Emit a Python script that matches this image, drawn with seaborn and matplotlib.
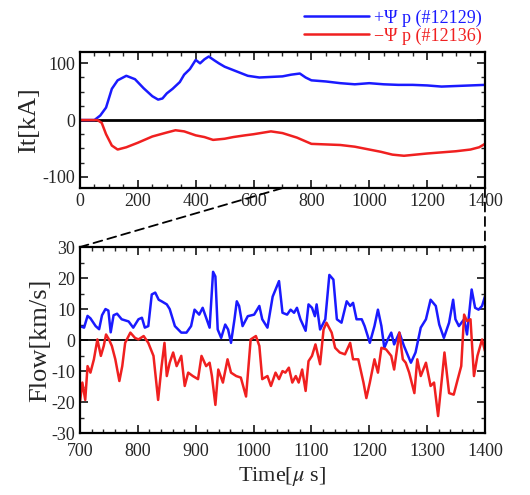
import numpy as np
import pandas as pd
import matplotlib
matplotlib.use("Agg")
import matplotlib.pyplot as plt
from matplotlib.patches import ConnectionPatch
from matplotlib.ticker import MultipleLocator
import seaborn as sns

# --- toroidal current It [kA], time in microseconds ---
it_pos_t = [0, 50, 70, 90, 110, 130, 160, 190, 220, 250, 270, 285, 300, 320, 345, 360, 380, 400,
            415, 430, 445, 465, 480, 500, 530, 560, 580, 620, 660, 700, 730, 760, 780, 800, 850,
            900, 950, 1000, 1050, 1100, 1150, 1200, 1250, 1300, 1350, 1400]
it_pos_v = [0, 0, 8, 22, 55, 70, 78, 72, 56, 42, 36, 38, 47, 55, 67, 80, 90, 106,
            100, 107, 112, 105, 100, 94, 88, 82, 78, 75, 76, 77, 80, 82, 75, 70, 68,
            65, 63, 65, 63, 62, 62, 61, 59, 60, 61, 62]
it_neg_t = [0, 60, 75, 90, 110, 130, 160, 200, 250, 300, 330, 360, 400, 430, 460, 500, 530,
            570, 600, 660, 700, 750, 800, 850, 900, 950, 1000, 1040, 1080, 1120, 1160, 1200,
            1250, 1300, 1350, 1380, 1400]
it_neg_v = [0, 0, -5, -25, -45, -52, -48, -40, -29, -22, -18, -20, -27, -30, -35, -33, -30,
            -27, -25, -20, -23, -31, -42, -43, -44, -47, -52, -56, -61, -63, -61, -59,
            -57, -55, -52, -48, -42]

# --- flow velocity [km/s], time in microseconds ---
fl_pos_t = [700, 707, 713, 718, 727, 733, 738, 744, 749, 753, 758, 764, 772, 784, 792, 801, 807,
            812, 818, 824, 830, 836, 841, 850, 855, 864, 875, 884, 892, 898, 906, 912, 918, 924,
            930, 934, 938, 944, 951, 956, 961, 967, 971, 975, 981, 990, 1001, 1010, 1015, 1024,
            1033, 1044, 1050, 1058, 1064, 1070, 1075, 1081, 1090, 1095, 1101, 1106, 1109, 1115,
            1124, 1131, 1138, 1144, 1152, 1161, 1167, 1172, 1178, 1187, 1192, 1201, 1209, 1215,
            1221, 1226, 1232, 1238, 1243, 1252, 1260, 1272, 1280, 1289, 1298, 1306, 1315, 1321,
            1329, 1338, 1345, 1349, 1355, 1364, 1369, 1377, 1383, 1389, 1395, 1400]
fl_pos_v = [4.5, 4, 7.8, 7, 4.5, 3.5, 8, 10, 9.5, 2.5, 8, 8.5, 6.7, 6, 4, 6.7, 7.2,
            4, 4.5, 14.7, 15.3, 13, 12.5, 11.5, 10, 4.5, 2.4, 2.4, 4.5, 9.8, 8.2, 10.4, 7.2, 4,
            22, 20.5, 3.4, 0.7, 5, 3.4, -0.9, 6.7, 12.5, 11, 4.5, 7.7, 8.2, 11, 6.7, 4,
            14, 19, 8.8, 8.2, 9.8, 8.8, 10.4, 6.7, 3, 11.5, 10.4, 7.7, 11.5, 3.4,
            6.7, 21, 19.5, 6.7, 5.6, 12.5, 11, 12, 6.7, 6.7, 4.5, -0.9, 4.5, 9.8,
            4.5, -2.5, 0.2, 2.4, -1.4, 2.4, -1.9, -7.3, -4, 4, 6.7, 13, 11, 5,
            0.7, 5.6, 13, 6.7, 4.5, 6.7, 1.8, 16.3, 10.4, 9.8, 11, 14]
fl_neg_t = [700, 704, 709, 713, 718, 724, 730, 736, 741, 745, 750, 755, 761, 768, 773, 778, 787,
            795, 801, 810, 818, 827, 835, 841, 846, 850, 855, 861, 867, 875, 881, 887, 895, 904,
            910, 918, 924, 928, 934, 939, 947, 955, 961, 970, 978, 987, 995, 1004, 1010, 1015,
            1024, 1030, 1038, 1044, 1050, 1055, 1061, 1067, 1073, 1078, 1084, 1090, 1095, 1101,
            1107, 1115, 1121, 1126, 1135, 1141, 1149, 1158, 1167, 1172, 1181, 1190, 1195, 1201,
            1209, 1215, 1221, 1229, 1238, 1243, 1252, 1258, 1263, 1269, 1278, 1283, 1289, 1298,
            1306, 1312, 1319, 1326, 1330, 1338, 1346, 1353, 1359, 1364, 1369, 1375, 1381, 1387,
            1395, 1400]
fl_neg_v = [-19.8, -13.7, -19.3, -8.4, -10.5, -6.2, 0.2, -5.1, -1.9, 1.8, 0.2, -1.9, -6.2, -13.2,
            -8.4, -0.9, 2.4, 0.7, 0.2, 1.3, -0.9, -5.1, -19.3, -8.4, -0.9, -11.6, -7.3, -4, -8.4,
            -5.1, -14.8, -10.5, -11.6, -12.6, -5.1, -8.4, -7.3, -11.6, -20.9, -9.5, -13.7, -6.2,
            -10.5, -11.6, -12.1, -18.2, 0.2, 1.3, -1.9, -12.6, -11.6, -14.8, -10.5, -12.6, -10,
            -10.5, -8.9, -13.7, -11.6, -13.7, -9.5, -16.4, -6.8, -5.1, -1.4, -7.8, 3.4, 5.6, 2.4,
            -2.5, -4, -4.6, -0.9, -6.2, -6.2, -13.7, -18.7, -13.7, -6.2, -10.5, -2.5, -3, -5.1,
            -9.5, 2.4, -6.2, -7.3, -10.5, -17.1, -6.2, -11.6, -7.3, -14.8, -13.7, -24.5, -11.6,
            -4, -17.1, -17.6, -12.6, -8.4, 8.2, 6.1, 6.7, -11.6, -5.1, 0.2, -3.5]

label_pos = "+Ψ p (#12129)"
label_neg = "−Ψ p (#12136)"
blue = "#1a1aff"
red = "#f02020"

sns.set_style("ticks")
plt.rcParams["font.family"] = ["Liberation Serif", "DejaVu Serif"]
plt.rcParams["mathtext.fontset"] = "stix"
plt.rcParams["axes.unicode_minus"] = False

fig = plt.figure(figsize=(5.3, 4.95), dpi=100)
ax1 = fig.add_axes([0.151, 0.620, 0.764, 0.275])
ax2 = fig.add_axes([0.151, 0.125, 0.764, 0.376])

top_pos = pd.DataFrame({"t": it_pos_t, "v": it_pos_v})
top_neg = pd.DataFrame({"t": it_neg_t, "v": it_neg_v})
bot_pos = pd.DataFrame({"t": fl_pos_t, "v": fl_pos_v})
bot_neg = pd.DataFrame({"t": fl_neg_t, "v": fl_neg_v})

ax1.axhline(0, color="black", lw=2, zorder=1)
sns.lineplot(data=top_pos, x="t", y="v", ax=ax1, color=blue, lw=1.8, label=label_pos)
sns.lineplot(data=top_neg, x="t", y="v", ax=ax1, color=red, lw=1.8, label=label_neg)
ax1.set_xlim(0, 1400)
ax1.set_ylim(-120, 120)
ax1.xaxis.set_major_locator(MultipleLocator(200))
ax1.xaxis.set_minor_locator(MultipleLocator(50))
ax1.yaxis.set_major_locator(MultipleLocator(100))
ax1.yaxis.set_minor_locator(MultipleLocator(25))
ax1.set_xlabel("")
ax1.set_ylabel("It[kA]", fontsize=19, labelpad=2)

ax2.axhline(0, color="black", lw=1.3, zorder=1)
sns.lineplot(data=bot_pos, x="t", y="v", ax=ax2, color=blue, lw=1.8)
sns.lineplot(data=bot_neg, x="t", y="v", ax=ax2, color=red, lw=1.8)
ax2.set_xlim(700, 1400)
ax2.set_ylim(-30, 30)
ax2.xaxis.set_major_locator(MultipleLocator(100))
ax2.xaxis.set_minor_locator(MultipleLocator(20))
ax2.yaxis.set_major_locator(MultipleLocator(10))
ax2.yaxis.set_minor_locator(MultipleLocator(5))
ax2.set_xlabel(r"Time[$\mu$ s]", fontsize=16, labelpad=4)
ax2.set_ylabel("Flow[km/s]", fontsize=19, labelpad=0)

for ax in (ax1, ax2):
    ax.tick_params(which="both", direction="in", top=True, right=True, labelsize=13)
    ax.tick_params(which="major", length=6, width=1.3)
    ax.tick_params(which="minor", length=3, width=1.0)
    for s in ax.spines.values():
        s.set_linewidth(1.6)
        s.set_color("black")
ax2.tick_params(axis="x", which="major", pad=7)

# legend above the top panel
leg = ax1.legend(loc="lower right", bbox_to_anchor=(1.01, 1.0), frameon=False,
                 fontsize=13, handlelength=3.6, handletextpad=0.3, labelspacing=0.05,
                 borderaxespad=0.0)
for txt, c in zip(leg.get_texts(), [blue, red]):
    txt.set_color(c)

# zoom connector lines from the top panel to the bottom panel
for xv in (700, 1400):
    con = ConnectionPatch(xyA=(xv, -120), coordsA=ax1.transData,
                          xyB=(xv, 30), coordsB=ax2.transData,
                          color="black", lw=1.3, ls=(0, (5, 3)))
    fig.add_artist(con)

fig.savefig("out.png", dpi=100)
